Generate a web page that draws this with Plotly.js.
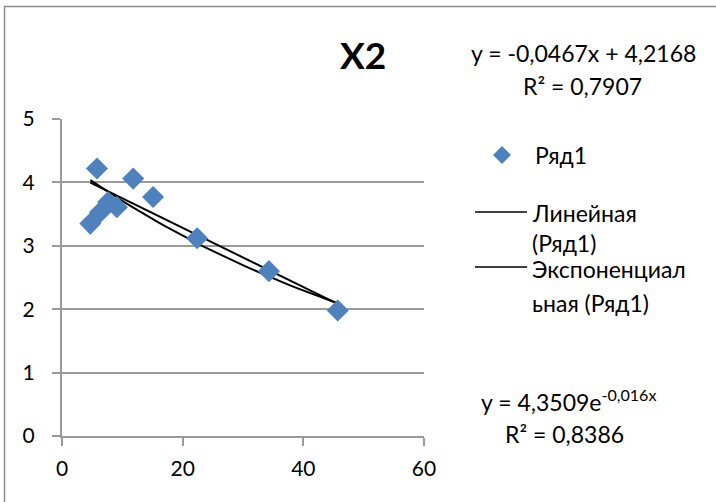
<!DOCTYPE html>
<html>
<head>
<meta charset="utf-8">
<script src="https://cdn.plot.ly/plotly-3.0.1.min.js"></script>
<style>html,body{margin:0;padding:0;background:#fff;}#chart{width:716px;height:502px;}</style>
</head>
<body>
<div id="chart"></div>
<script>
// Data
const xValues = [4.7, 5.8, 6.3, 7.65, 9.1, 11.8, 15.1, 22.4, 34.3, 45.7];
const yValues = [3.35, 4.22, 3.53, 3.69, 3.61, 4.06, 3.77, 3.12, 2.60, 1.98];
const seriesName = 'Ряд1';
const linSlope = -0.0467, linIntercept = 4.2168;
const expA = 4.3509, expB = -0.016;
const xTickVals = [0, 20, 40, 60];
const yTickVals = [0, 1, 2, 3, 4, 5];
const chartTitle = 'X2';
const eqLin = ['y = -0,0467x + 4,2168', 'R² = 0,7907'];
const eqExp = ['y = 4,3509e<sup>-0,016x</sup>', 'R² = 0,8386'];
const legendLines = [['Ряд1'], ['Линейная', '(Ряд1)'], ['Экспоненциал', 'ьная (Ряд1)']];

const W = 716, H = 502;
const M = {l: 62, r: 292, t: 119, b: 66};
const PW = W - M.l - M.r, PH = H - M.t - M.b;
const px = v => (v - M.l) / PW;
const py = v => 1 - (v - M.t) / PH;

const FONT = 'Lato, "Noto Sans", sans-serif';
const BLUE = '#4F81BD';
const GRID = '#9a9a9a';

const xMin = Math.min(...xValues), xMax = Math.max(...xValues);
const trendX = [];
for (let i = 0; i <= 40; i++) trendX.push(xMin + (xMax - xMin) * i / 40);
const linY = trendX.map(x => linSlope * x + linIntercept);
const expY = trendX.map(x => expA * Math.exp(expB * x));

const traces = [
  {x: trendX, y: linY, mode: 'lines', line: {color: '#000', width: 2}, hoverinfo: 'skip'},
  {x: trendX, y: expY, mode: 'lines', line: {color: '#000', width: 2}, hoverinfo: 'skip'},
  {x: xValues, y: yValues, mode: 'markers', name: seriesName,
   marker: {symbol: 'diamond', size: 17, color: BLUE, line: {width: 0}}}
];

const TXT = 23;
const ann = (text, x, y, opts = {}) => Object.assign({
  text, xref: 'paper', yref: 'paper', x: px(x), y: py(y), showarrow: false,
  xanchor: 'center', yanchor: 'middle', font: {family: FONT, size: TXT, color: '#000'}
}, opts);

const annotations = [
  ann('<b>' + chartTitle + '</b>', 363, 55, {font: {family: FONT, size: 37, color: '#000'}}),
  ann(eqLin[0], 583, 53),
  ann(eqLin[1], 582, 86),
  ann(legendLines[0][0], 533, 155, {xanchor: 'left'}),
  ann(legendLines[1][0], 530, 213, {xanchor: 'left'}),
  ann(legendLines[1][1], 530, 243, {xanchor: 'left'}),
  ann(legendLines[2][0], 530, 269, {xanchor: 'left'}),
  ann(legendLines[2][1], 530, 303, {xanchor: 'left'}),
  ann(eqExp[0], 568, 400),
  ann(eqExp[1], 564, 434)
];

const shapes = [
  {type: 'rect', xref: 'paper', yref: 'paper', x0: px(4.5), x1: px(725), y0: py(6.5), y1: py(510),
   line: {color: '#8c8c8c', width: 1.5}, fillcolor: 'rgba(0,0,0,0)'},
  {type: 'line', xref: 'paper', yref: 'paper', x0: px(475), x1: px(527), y0: py(212), y1: py(212),
   line: {color: '#000', width: 1.5}},
  {type: 'line', xref: 'paper', yref: 'paper', x0: px(475), x1: px(527), y0: py(267), y1: py(267),
   line: {color: '#000', width: 1.5}},
  {type: 'path', xref: 'paper', yref: 'paper', xsizemode: 'pixel', ysizemode: 'pixel',
   xanchor: px(502), yanchor: py(155), path: 'M0,-9 L9,0 L0,9 L-9,0 Z',
   fillcolor: BLUE, line: {width: 0}}
];

const layout = {
  width: W, height: H, margin: M, showlegend: false,
  paper_bgcolor: '#fff', plot_bgcolor: '#fff',
  font: {family: FONT, size: 21, color: '#000'},
  xaxis: {range: [0, 60], tickvals: xTickVals, ticks: 'outside', ticklen: 8, tickwidth: 2,
          tickcolor: GRID, showgrid: false, zeroline: false, showline: true, linecolor: GRID,
          linewidth: 2, tickfont: {family: FONT, size: 21}, ticklabelstandoff: 5, fixedrange: true},
  yaxis: {range: [0, 5], tickvals: yTickVals, ticks: 'outside', ticklen: 8, tickwidth: 2,
          tickcolor: GRID, showgrid: true, gridcolor: GRID, gridwidth: 2, zeroline: false,
          showline: true, linecolor: GRID, linewidth: 2, tickfont: {family: FONT, size: 21},
          ticklabelstandoff: 13, fixedrange: true},
  annotations, shapes
};

Plotly.newPlot('chart', traces, layout, {displayModeBar: false, staticPlot: true});
</script>
</body>
</html>
